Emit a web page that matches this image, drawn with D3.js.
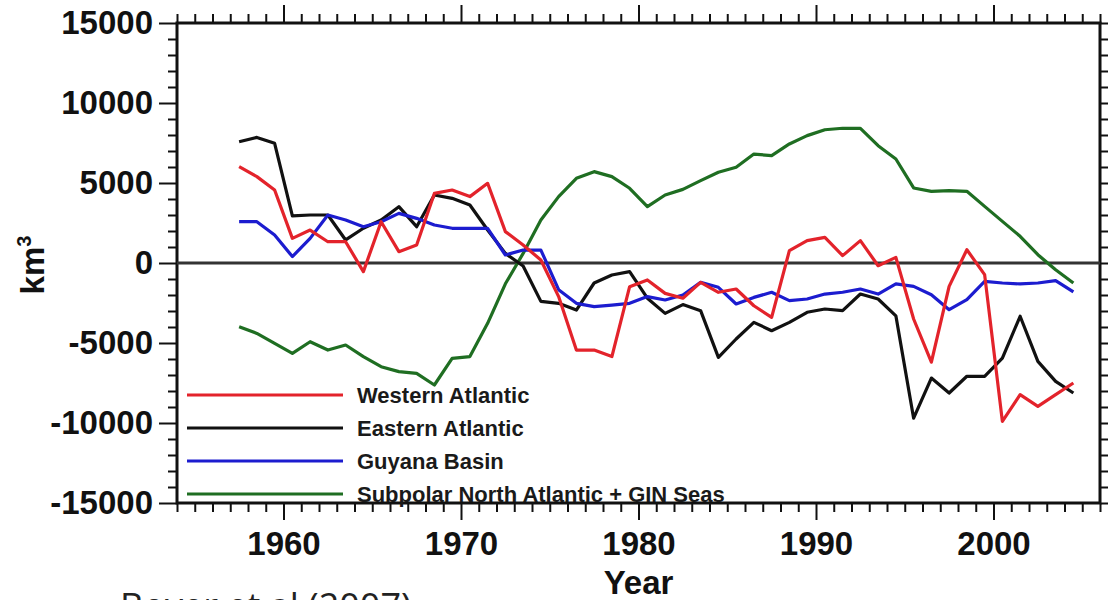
<!DOCTYPE html>
<html lang="en">
  <head>
    <meta charset="UTF-8" />
    <title>North Atlantic freshwater content</title>
    <script src="https://cdn.jsdelivr.net/npm/d3@7"></script>
    <style>
      body { margin: 0; background: #fff; }
      svg { display: block; }
      .tick text { font-family: "Liberation Sans", Arial, sans-serif; font-weight: bold; }
    </style>
  </head>
  <body>
    <div id="chart"></div>

    <script>
      // years (mid-year points)
      var years = [
        1957.5, 1958.5, 1959.5, 1960.5, 1961.5, 1962.5, 1963.5, 1964.5, 1965.5, 1966.5,
        1967.5, 1968.5, 1969.5, 1970.5, 1971.5, 1972.5, 1973.5, 1974.5, 1975.5, 1976.5,
        1977.5, 1978.5, 1979.5, 1980.5, 1981.5, 1982.5, 1983.5, 1984.5, 1985.5, 1986.5,
        1987.5, 1988.5, 1989.5, 1990.5, 1991.5, 1992.5, 1993.5, 1994.5, 1995.5, 1996.5,
        1997.5, 1998.5, 1999.5, 2000.5, 2001.5, 2002.5, 2003.5, 2004.5
      ];

      var westernAtlantic = [
        6020, 5400, 4560, 1540, 2060, 1330, 1330, -540, 2580, 710,
        1125, 4350, 4560, 4150, 4980, 1960, 1125, 190, -2100, -5440,
        -5440, -5850, -1480, -1060, -1900, -2200, -1210, -1830, -1625, -2670,
        -3400, 770, 1400, 1600, 460, 1400, -170, 350, -3500, -6200,
        -1460, 830, -730, -9900, -8230, -8960, -8230, -7500
      ];

      var easternAtlantic = [
        7580, 7850, 7480, 2940, 3000, 3000, 1440, 2170, 2690, 3520,
        2270, 4250, 4040, 3625, 2060, 600, -190, -2400, -2520, -2940,
        -1250, -750, -540, -2200, -3150, -2600, -2980, -5900, -4750, -3710,
        -4230, -3710, -3080, -2875, -2980, -1940, -2250, -3300, -9700, -7190,
        -8125, -7080, -7080, -5940, -3330, -6150, -7400, -8125
      ];

      var guyanaBasin = [
        2580, 2580, 1750, 400, 1540, 3000, 2690, 2270, 2580, 3100,
        2790, 2375, 2170, 2170, 2170, 500, 810, 810, -1670, -2520,
        -2730, -2630, -2520, -2100, -2310, -2000, -1210, -1520, -2560, -2150,
        -1830, -2350, -2250, -1940, -1830, -1625, -1940, -1310, -1460, -1980,
        -2920, -2290, -1150, -1250, -1310, -1250, -1100, -1810
      ];

      var subpolarGin = [
        -3980, -4400, -5020, -5650, -4920, -5440, -5125, -5850, -6480, -6790,
        -6900, -7625, -5960, -5850, -3770, -1300, 600, 2690, 4150, 5290,
        5710, 5400, 4670, 3520, 4250, 4600, 5150, 5670, 5980, 6810,
        6710, 7440, 7960, 8330, 8420, 8420, 7330, 6500, 4690, 4480,
        4520, 4480, 3540, 2600, 1670, 520, -420, -1250
      ];

      var xMajorTicks = [1960, 1970, 1980, 1990, 2000];
      var yMajorTicks = [-15000, -10000, -5000, 0, 5000, 10000, 15000];

      var seriesNames = [
        "Western Atlantic",
        "Eastern Atlantic",
        "Guyana Basin",
        "Subpolar North Atlantic + GIN Seas"
      ];
      var seriesColors = ["#e3232b", "#111111", "#1c1ccf", "#1f6e22"];
      var seriesValues = [westernAtlantic, easternAtlantic, guyanaBasin, subpolarGin];

      var width = 1109,
        height = 600;
      // plot box (note: "top" is reserved on window, so prefix these)
      var plotLeft = 177,
        plotRight = 1100,
        plotTop = 23,
        plotBottom = 503;

      var svg = d3
        .select("#chart")
        .append("svg")
        .attr("width", width)
        .attr("height", height);

      svg.append("rect").attr("width", width).attr("height", height).attr("fill", "#fff");

      var x = d3.scaleLinear().domain([1954, 2006]).range([plotLeft, plotRight]);
      var y = d3.scaleLinear().domain([-15000, 15000]).range([plotBottom, plotTop]);

      var minorYears = d3.range(1954, 2007).filter(function (d) {
        return d % 10 !== 0;
      });
      var minorValues = d3.range(-15000, 15001, 1000).filter(function (d) {
        return d % 5000 !== 0;
      });

      function styleAxis(g) {
        g.select(".domain").remove();
        g.selectAll(".tick line").attr("stroke", "#111").attr("stroke-width", 2);
        g.selectAll(".tick text").attr("font-size", 33).attr("fill", "#111");
      }

      // plain hyphen for negatives, like the original figure
      function plainNumber(d) {
        return String(d);
      }

      // bottom axis
      svg
        .append("g")
        .attr("transform", "translate(0," + plotBottom + ")")
        .call(d3.axisBottom(x).tickValues(minorYears).tickSize(9).tickFormat(""))
        .call(styleAxis);
      svg
        .append("g")
        .attr("transform", "translate(0," + plotBottom + ")")
        .call(d3.axisBottom(x).tickValues(xMajorTicks).tickSize(17).tickPadding(12).tickFormat(plainNumber))
        .call(styleAxis);

      // top axis
      svg
        .append("g")
        .attr("transform", "translate(0," + plotTop + ")")
        .call(d3.axisTop(x).tickValues(minorYears).tickSize(9).tickFormat(""))
        .call(styleAxis);
      svg
        .append("g")
        .attr("transform", "translate(0," + plotTop + ")")
        .call(d3.axisTop(x).tickValues(xMajorTicks).tickSize(18).tickFormat(""))
        .call(styleAxis);

      // left axis
      svg
        .append("g")
        .attr("transform", "translate(" + plotLeft + ",0)")
        .call(d3.axisLeft(y).tickValues(minorValues).tickSize(9).tickFormat(""))
        .call(styleAxis);
      svg
        .append("g")
        .attr("transform", "translate(" + plotLeft + ",0)")
        .call(d3.axisLeft(y).tickValues(yMajorTicks).tickSize(18).tickPadding(6).tickFormat(plainNumber))
        .call(styleAxis);

      // right axis
      svg
        .append("g")
        .attr("transform", "translate(" + plotRight + ",0)")
        .call(d3.axisRight(y).tickValues(minorValues.concat(yMajorTicks)).tickSize(8).tickFormat(""))
        .call(styleAxis);

      // frame
      svg
        .append("rect")
        .attr("x", plotLeft)
        .attr("y", plotTop)
        .attr("width", plotRight - plotLeft)
        .attr("height", plotBottom - plotTop)
        .attr("fill", "none")
        .attr("stroke", "#111")
        .attr("stroke-width", 3);

      // zero line
      svg
        .append("line")
        .attr("x1", plotLeft)
        .attr("x2", plotRight)
        .attr("y1", y(0))
        .attr("y2", y(0))
        .attr("stroke", "#333")
        .attr("stroke-width", 3);

      var line = d3
        .line()
        .x(function (d) {
          return x(d[0]);
        })
        .y(function (d) {
          return y(d[1]);
        });

      // draw order: green, black, blue, red
      [3, 1, 2, 0].forEach(function (i) {
        svg
          .append("path")
          .datum(d3.zip(years, seriesValues[i]))
          .attr("d", line)
          .attr("fill", "none")
          .attr("stroke", seriesColors[i])
          .attr("stroke-width", 3.2)
          .attr("stroke-linejoin", "round");
      });

      // legend
      var legend = svg.append("g").attr("transform", "translate(187,395)");
      seriesNames.forEach(function (name, i) {
        var item = legend.append("g").attr("transform", "translate(0," + i * 33 + ")");
        item
          .append("line")
          .attr("x1", 0)
          .attr("x2", 156)
          .attr("stroke", seriesColors[i])
          .attr("stroke-width", 3.2);
        item
          .append("text")
          .attr("x", 170)
          .attr("y", 8)
          .attr("font-family", "Liberation Sans, Arial, sans-serif")
          .attr("font-weight", "bold")
          .attr("font-size", 22)
          .attr("fill", "#1a1a1a")
          .text(name);
      });

      // axis titles
      svg
        .append("text")
        .attr("x", (plotLeft + plotRight) / 2)
        .attr("y", 594)
        .attr("text-anchor", "middle")
        .attr("font-family", "Liberation Sans, Arial, sans-serif")
        .attr("font-weight", "bold")
        .attr("font-size", 33)
        .attr("fill", "#111")
        .text("Year");

      var yTitle = svg
        .append("text")
        .attr("transform", "translate(44,265) rotate(-90)")
        .attr("text-anchor", "middle")
        .attr("font-family", "Liberation Sans, Arial, sans-serif")
        .attr("font-weight", "bold")
        .attr("font-size", 33)
        .attr("fill", "#111");
      yTitle.append("tspan").text("km");
      yTitle.append("tspan").attr("font-size", 20).attr("dy", -13).text("3");

      // source note at the bottom (cut off by the page edge, as in the original)
      svg
        .append("text")
        .attr("x", 120)
        .attr("y", 619)
        .attr("font-family", "Open Sans, Noto Sans, sans-serif")
        .attr("font-size", 36)
        .attr("fill", "#222")
        .text("Boyer et al (2007)");
    </script>
  </body>
</html>
